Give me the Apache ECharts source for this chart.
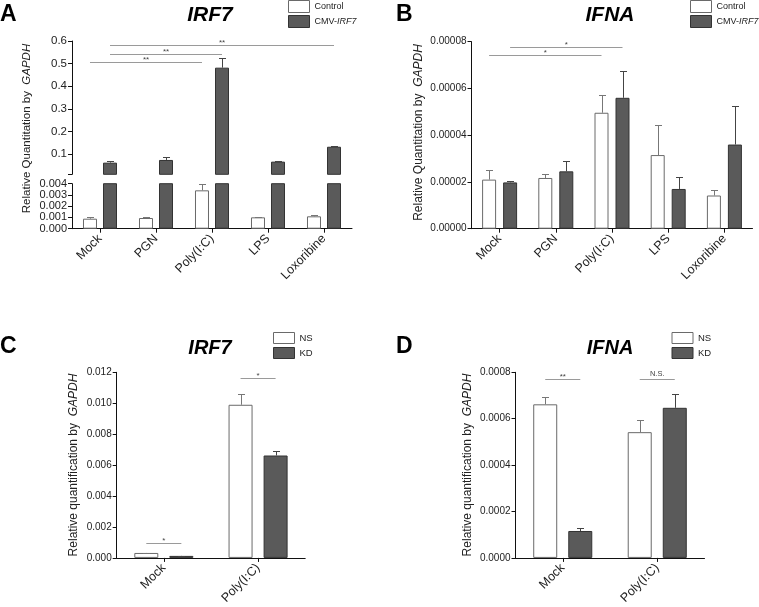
<!DOCTYPE html>
<html><head><meta charset="utf-8">
<script src="https://cdn.jsdelivr.net/npm/echarts@6/dist/echarts.min.js"></script>
<style>html,body{margin:0;padding:0;background:#fff}#c{width:759px;height:607px}</style>
</head><body><div id="c"></div>
<script>
// ---------- data ----------
const catsAB = ['Mock', 'PGN', 'Poly(I:C)', 'LPS', 'Loxoribine'];
const catsCD = ['Mock', 'Poly(I:C)'];

// Panel A: IRF7 (Control vs CMV-IRF7)
const aControl    = [0.00089, 0.00095, 0.00341, 0.00101, 0.00110];
const aControlErr = [0.00011, 0.00006, 0.00054, 0.00004, 0.00008];
const aCmv        = [0.0616, 0.0735, 0.482, 0.066, 0.132];
const aCmvErr     = [0.0070, 0.0145, 0.043, 0.004, 0.003];
const aUpperTicks = [0.01, 0.1, 0.2, 0.3, 0.4, 0.5, 0.6];
const aUpperLabels = [0.1, 0.2, 0.3, 0.4, 0.5, 0.6];
// significance: [cat1, bar1, cat2, bar2, y]
const aSig = [[0, 0, 2, 0, 0.508], [0, 1, 2, 1, 0.544], [0, 1, 4, 1, 0.581]];
const aSigText = ['**', '**', '**'];

// Panel B: IFNA
const bControl    = [2.10e-5, 2.17e-5, 4.96e-5, 3.15e-5, 1.42e-5];
const bControlErr = [0.42e-5, 0.17e-5, 0.77e-5, 1.27e-5, 0.23e-5];
const bCmv        = [1.98e-5, 2.455e-5, 5.60e-5, 1.70e-5, 3.60e-5];
const bCmvErr     = [0.06e-5, 0.42e-5, 1.16e-5, 0.53e-5, 1.65e-5];
const bSig = [[0, 0, 2, 0, 7.43e-5], [0, 1, 2, 1, 7.79e-5]];
const bSigText = ['*', '*'];

// Panel C: IRF7 (NS vs KD)
const cNS    = [0.00032, 0.0099];
const cNSErr = [0.00001, 0.0007];
const cKD    = [0.00013, 0.00662];
const cKDErr = [0.00001, 0.00028];
const cSig = [[0, 0, 0, 1, 0.00096], [1, 0, 1, 1, 0.0116]];
const cSigText = ['*', '*'];

// Panel D: IFNA (NS vs KD)
const dNS    = [0.000662, 0.000542];
const dNSErr = [0.000030, 0.000054];
const dKD    = [0.000116, 0.000647];
const dKDErr = [0.000014, 0.000060];
const dSig = [[0, 0, 0, 1, 0.000771], [1, 0, 1, 1, 0.000771]];
const dSigText = ['**', 'N.S.'];

// ---------- styles ----------
const FONT = '"Liberation Sans", Arial, Helvetica, sans-serif';
const WHITE = {color: '#ffffff', borderColor: '#6a6a6a', borderWidth: 1};
const DARK = {color: '#5a5a5a', borderColor: '#333333', borderWidth: 1};
const ERR_COLORS = ['#777777', '#444444'];

function barOffset(bw, gap, side) { return (side ? 1 : -1) * bw * (1 + gap) / 2; }

function errSeries(name, grid, means, errs, side, bw, gap) {
  return {
    type: 'custom', name: name + ' err', xAxisIndex: grid, yAxisIndex: grid, z: 5,
    encode: {x: 0, y: 2},
    data: means.map((m, i) => [i, m, m + errs[i]]),
    renderItem: function (params, api) {
      const c = api.value(0);
      const p1 = api.coord([c, api.value(1)]);
      const p2 = api.coord([c, api.value(2)]);
      const x = Math.round(p1[0] + barOffset(bw, gap, side)) + 0.5;
      const y2 = Math.round(p2[1]) + 0.5;
      const col = ERR_COLORS[side];
      return {type: 'group', children: [
        {type: 'line', shape: {x1: x, y1: p1[1], x2: x, y2: y2}, style: {stroke: col, lineWidth: 1}},
        {type: 'line', shape: {x1: x - 3.5, y1: y2, x2: x + 3.5, y2: y2}, style: {stroke: col, lineWidth: 1}}
      ]};
    }
  };
}

function sigSeries(grid, sig, texts, bw, gap) {
  return {
    type: 'custom', name: 'sig' + grid, xAxisIndex: grid, yAxisIndex: grid, z: 6,
    encode: {x: 0, y: 4},
    data: sig,
    renderItem: function (params, api) {
      const y = api.value(4);
      const p1 = api.coord([api.value(0), y]);
      const p2 = api.coord([api.value(2), y]);
      const x1 = p1[0] + barOffset(bw, gap, api.value(1));
      const x2 = p2[0] + barOffset(bw, gap, api.value(3));
      const yy = Math.round(p1[1]) + 0.5;
      const t = texts[params.dataIndex];
      const star = t.indexOf('*') >= 0;
      return {type: 'group', children: [
        {type: 'line', shape: {x1: x1, y1: yy, x2: x2, y2: yy}, style: {stroke: '#9a9a9a', lineWidth: 1}},
        {type: 'text', x: (x1 + x2) / 2, y: star ? yy - 6.5 : yy - 1.5,
          style: {text: t, fill: '#444', fontSize: star ? 8 : 7.5, fontFamily: FONT,
            align: 'center', verticalAlign: star ? 'top' : 'bottom'}}
      ]};
    }
  };
}

function catAxis(grid, cats, show) {
  return {
    type: 'category', gridIndex: grid, data: cats,
    axisLine: {show: show, lineStyle: {color: '#111', width: 1}},
    axisTick: {show: show, alignWithLabel: true, length: 4, lineStyle: {color: '#111'}},
    axisLabel: {show: show, rotate: 45, margin: 8, fontSize: 12.5, color: '#222', fontFamily: FONT, interval: 0},
    splitLine: {show: false}
  };
}

function valAxis(grid, min, max, interval, digits, fs) {
  return {
    type: 'value', gridIndex: grid, min: min, max: max, interval: interval,
    axisLine: {show: true, lineStyle: {color: '#111', width: 1}},
    axisTick: {show: true, length: 4, lineStyle: {color: '#111'}},
    axisLabel: {show: true, fontSize: fs, color: '#222', fontFamily: FONT, margin: 5,
      formatter: v => v.toFixed(digits)},
    splitLine: {show: false}
  };
}

const upperAxis = {
  type: 'value', gridIndex: 0, min: 0.01, max: 0.6,
  axisLine: {show: true, lineStyle: {color: '#111', width: 1}},
  axisTick: {show: true, length: 4, lineStyle: {color: '#111'}, customValues: aUpperTicks},
  axisLabel: {show: true, fontSize: 11.5, color: '#222', fontFamily: FONT, margin: 5,
    customValues: aUpperLabels, formatter: v => v.toFixed(1)},
  splitLine: {show: false}
};

const AB_BW = 14, A_GAP = 0.43, B_GAP = 0.5, CD_BW = 24, CD_GAP = 0.46;

function bar(name, grid, data, style, bw, gap) {
  return {type: 'bar', name: name, xAxisIndex: grid, yAxisIndex: grid, data: data,
    barWidth: bw, barGap: (gap * 100) + '%', itemStyle: style, clip: true, z: 2};
}

function legend(names, left, top, ih, gapItem, fs, textGap) {
  return {
    data: names, left: left, top: top, orient: 'vertical', icon: 'rect',
    itemWidth: 21, itemHeight: ih, itemGap: gapItem, padding: 0, selectedMode: false,
    textGap: textGap,
    textStyle: {fontSize: fs, color: '#222', fontFamily: FONT,
      rich: {n: {fontSize: fs, fontFamily: FONT, color: '#222'},
             i: {fontSize: fs, fontFamily: FONT, color: '#222', fontStyle: 'italic'}}},
    itemStyle: {borderWidth: 1},
    formatter: function (n) { return n === 'CMV-IRF7' ? '{n|CMV-}{i|IRF7}' : n; }
  };
}

function text(x, y, t, size, weight, style, align) {
  return {type: 'text', x: x, y: y, style: {text: t, fontSize: size, fontWeight: weight,
    fontStyle: style, fontFamily: FONT, fill: '#000', align: align, verticalAlign: 'top'}};
}
function yTitle(x, y, a, size) {
  return {type: 'text', x: x, y: y, rotation: Math.PI / 2,
    style: {text: '{a|' + a + '}{b|GAPDH}', align: 'center', verticalAlign: 'middle',
      rich: {a: {fontSize: size, fontFamily: FONT, fill: '#222'},
             b: {fontSize: size, fontFamily: FONT, fill: '#222', fontStyle: 'italic'}}}};
}

const option = {
  animation: false,
  backgroundColor: '#fff',
  grid: [
    {left: 72, top: 41, width: 280, height: 133.3},
    {left: 72, top: 183.7, width: 280, height: 45},
    {left: 471.5, top: 41.7, width: 281, height: 187},
    {left: 116.7, top: 372.3, width: 188.5, height: 188.4},
    {left: 515.5, top: 372.3, width: 189, height: 188.4}
  ],
  xAxis: [
    catAxis(0, catsAB, false),
    catAxis(1, catsAB, true),
    catAxis(2, catsAB, true),
    catAxis(3, catsCD, true),
    catAxis(4, catsCD, true)
  ],
  yAxis: [
    upperAxis,
    valAxis(1, 0, 0.004, 0.001, 3, 11),
    valAxis(2, 0, 0.00008, 0.00002, 5, 10),
    valAxis(3, 0, 0.012, 0.002, 3, 10),
    valAxis(4, 0, 0.0008, 0.0002, 4, 10)
  ],
  legend: [
    legend(['Control', 'CMV-IRF7'], 288, 0, 12, 2, 9, 3),
    legend(['Control', 'CMV-IRF7'], 690, 0, 12, 2, 9, 3),
    legend(['NS', 'KD'], 273, 332, 11, 3, 9.5, 2),
    legend(['NS', 'KD'], 671.5, 332, 11, 3, 9.5, 2)
  ],
  graphic: [
    text(0, 3, 'A', 23, 'bold', 'normal', 'left'),
    text(210, 5, 'IRF7', 21, 'bold', 'italic', 'center'),
    text(396, 3, 'B', 23, 'bold', 'normal', 'left'),
    text(610, 5, 'IFNA', 21, 'bold', 'italic', 'center'),
    text(0, 335, 'C', 23, 'bold', 'normal', 'left'),
    text(210, 338, 'IRF7', 20, 'bold', 'italic', 'center'),
    text(396, 335, 'D', 23, 'bold', 'normal', 'left'),
    text(610, 338, 'IFNA', 20, 'bold', 'italic', 'center'),
    yTitle(26.5, 128.5, 'Relative Quantitation by  ', 11.5),
    yTitle(418.5, 132.5, 'Relative Quantitation by  ', 12),
    yTitle(73.5, 465, 'Relative quantification by  ', 12),
    yTitle(467.5, 465, 'Relative quantification by  ', 12)
  ],
  series: [
    // A upper
    bar('Control', 0, aControl, WHITE, AB_BW, A_GAP),
    bar('CMV-IRF7', 0, aCmv, DARK, AB_BW, A_GAP),
    errSeries('CMV-IRF7', 0, aCmv, aCmvErr, 1, AB_BW, A_GAP),
    sigSeries(0, aSig, aSigText, AB_BW, A_GAP),
    // A lower
    bar('Control', 1, aControl, WHITE, AB_BW, A_GAP),
    bar('CMV-IRF7', 1, aCmv, DARK, AB_BW, A_GAP),
    errSeries('Control', 1, aControl, aControlErr, 0, AB_BW, A_GAP),
    // B
    bar('Control', 2, bControl, WHITE, AB_BW, B_GAP),
    bar('CMV-IRF7', 2, bCmv, DARK, AB_BW, B_GAP),
    errSeries('Control', 2, bControl, bControlErr, 0, AB_BW, B_GAP),
    errSeries('CMV-IRF7', 2, bCmv, bCmvErr, 1, AB_BW, B_GAP),
    sigSeries(2, bSig, bSigText, AB_BW, B_GAP),
    // C
    bar('NS', 3, cNS, WHITE, CD_BW, CD_GAP),
    bar('KD', 3, cKD, DARK, CD_BW, CD_GAP),
    errSeries('NS', 3, cNS, cNSErr, 0, CD_BW, CD_GAP),
    errSeries('KD', 3, cKD, cKDErr, 1, CD_BW, CD_GAP),
    sigSeries(3, cSig, cSigText, CD_BW, CD_GAP),
    // D
    bar('NS', 4, dNS, WHITE, CD_BW, CD_GAP),
    bar('KD', 4, dKD, DARK, CD_BW, CD_GAP),
    errSeries('NS', 4, dNS, dNSErr, 0, CD_BW, CD_GAP),
    errSeries('KD', 4, dKD, dKDErr, 1, CD_BW, CD_GAP),
    sigSeries(4, dSig, dSigText, CD_BW, CD_GAP)
  ]
};

const chart = echarts.init(document.getElementById('c'), null, {renderer: 'canvas'});
chart.setOption(option);
</script>
</body></html>
